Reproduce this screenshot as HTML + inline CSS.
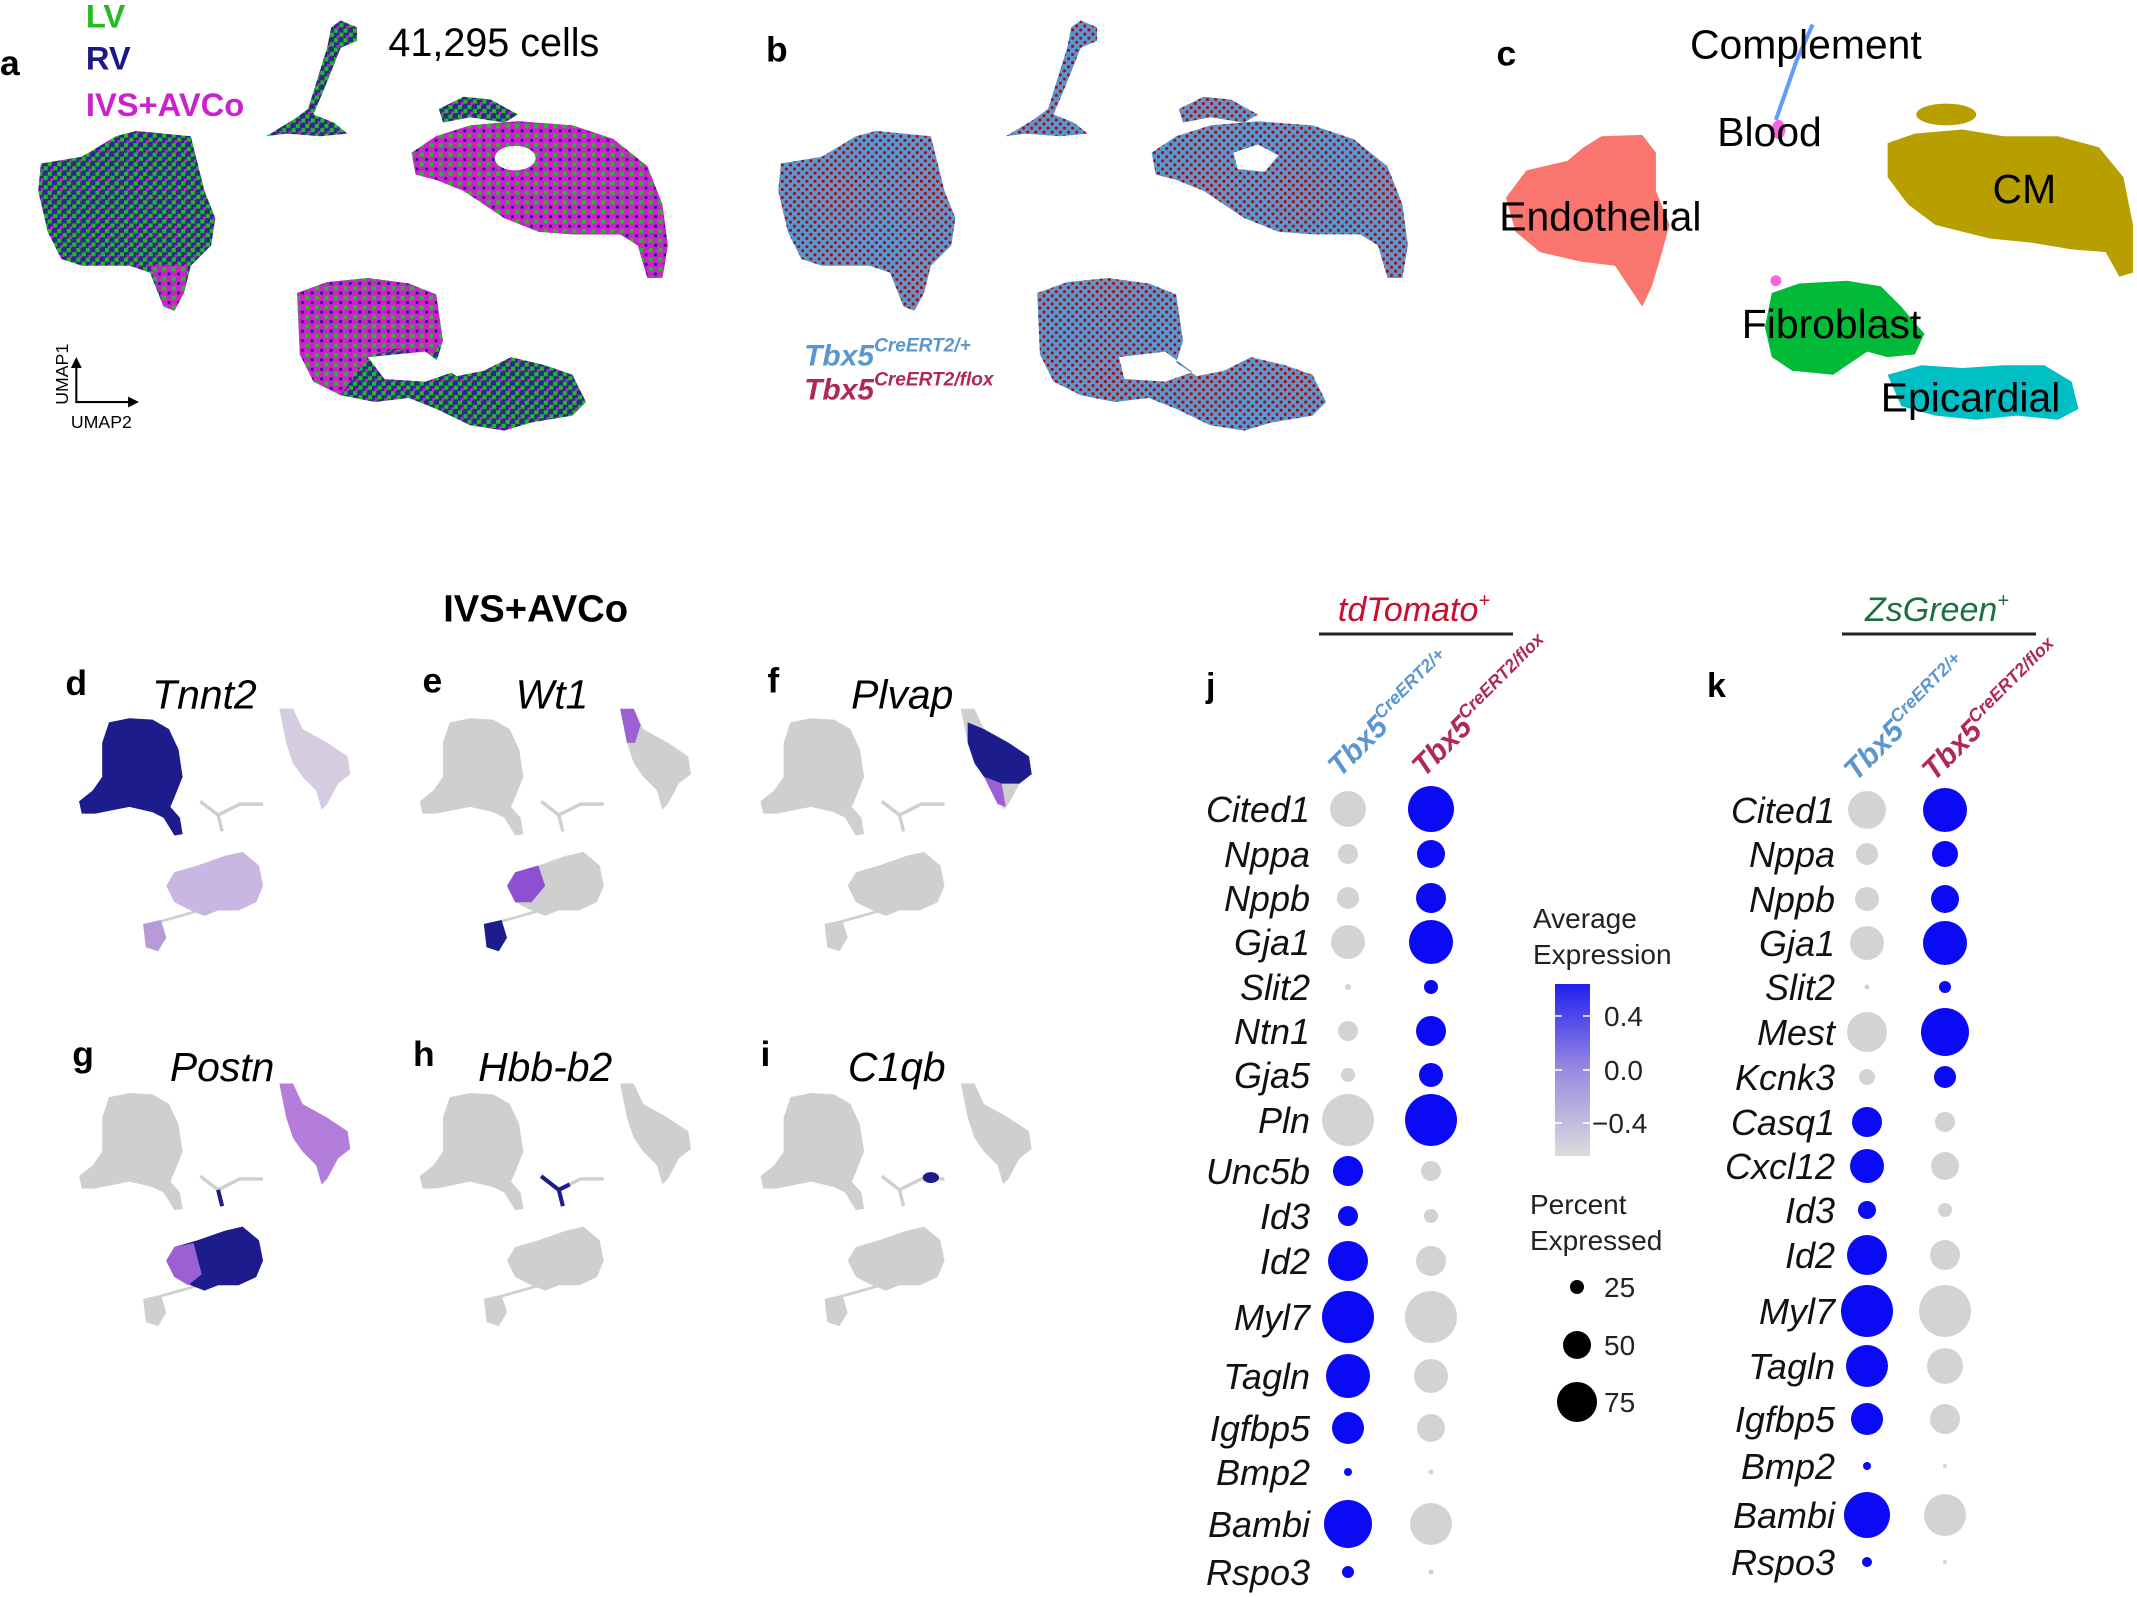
<!DOCTYPE html>
<html><head><meta charset="utf-8"><style>
html,body{margin:0;padding:0;background:#fff;}
svg{display:block;font-family:"Liberation Sans",Arial,sans-serif;}
</style></head><body>
<svg width="2137" height="1597" viewBox="0 0 2137 1597" xmlns="http://www.w3.org/2000/svg">
<defs>
<pattern id="pa" width="7" height="7" patternUnits="userSpaceOnUse">
<rect width="7" height="7" fill="#2a2a8a"/><rect x="0" y="0" width="3" height="3" fill="#22bb22"/><rect x="4" y="3" width="3" height="3" fill="#22bb22"/><rect x="2" y="5" width="2" height="2" fill="#cc22cc"/></pattern>
<pattern id="pa2" width="7" height="7" patternUnits="userSpaceOnUse">
<rect width="7" height="7" fill="#cc22cc"/><rect x="0" y="0" width="3" height="3" fill="#22bb22"/><rect x="4" y="4" width="2" height="2" fill="#1a1a80"/></pattern>
<pattern id="pb" width="6" height="6" patternUnits="userSpaceOnUse">
<rect width="6" height="6" fill="#5b97cf"/><rect x="0" y="0" width="2" height="2" fill="#b00000"/><rect x="3" y="3" width="2" height="2" fill="#b00000"/></pattern>
<linearGradient id="cb" x1="0" y1="0" x2="0" y2="1"><stop offset="0" stop-color="#2020f0"/><stop offset="0.5" stop-color="#9a8ae0"/><stop offset="1" stop-color="#dcdcdc"/></linearGradient>
<g id="umapA">
<path d="M30,120 L60,115 L85,100 L100,96 L140,100 L145,120 L150,140 L158,160 L155,180 L140,195 L135,215 L128,228 L120,225 L110,200 L95,195 L60,195 L45,190 L35,170 L28,140 Z"/>
<path d="M250,15 L262,20 L262,30 L250,35 L238,65 L230,84 L245,90 L255,98 L235,100 L210,98 L195,100 L215,88 L226,80 L240,35 L243,20 Z"/>
<path d="M322,80 L340,71 L360,73 L380,84 L370,90 L345,86 L325,90 Z"/>
<path fill-rule="evenodd" d="M302,112 L320,100 L345,92 L380,89 L420,92 L450,102 L475,122 L486,150 L490,180 L486,204 L475,204 L468,180 L455,172 L420,172 L395,170 L370,160 L355,150 L340,140 L320,132 L305,128 Z M362,112 L380,106 L395,114 L385,126 L365,124 Z"/>
<path fill-rule="evenodd" d="M218,215 L240,207 L270,204 L300,208 L320,216 L325,250 L320,266 L335,276 L355,272 L375,262 L400,268 L420,275 L430,295 L420,305 L390,310 L370,316 L345,312 L320,300 L300,292 L275,295 L250,290 L230,280 L220,260 Z M278,262 L312,258 L332,273 L312,280 L282,278 Z"/>
</g>
<g id="smallU" fill="#cfcfcf">
<path d="M75,545 L80,530 L95,527 L112,528 L124,535 L131,550 L134,570 L128,585 L125,592 L132,600 L134,612 L128,613 L120,600 L112,596 L95,592 L80,595 L70,597 L60,597 L58,588 L68,580 L75,570 Z"/>
<path d="M205,520 L215,520 L222,535 L240,545 L255,555 L257,568 L248,575 L240,590 L236,594 L232,580 L222,570 L215,560 L210,545 Z"/>
<path d="M147,588 L160,598 L176,590 L193,590" fill="none" stroke="#cfcfcf" stroke-width="2.5"/>
<path d="M160,598 L163,610" fill="none" stroke="#cfcfcf" stroke-width="2.5"/>
<path d="M122,650 L128,640 L145,635 L165,628 L178,625 L190,635 L193,650 L188,662 L175,668 L160,668 L150,672 L140,668 L128,662 Z"/>
<path d="M105,678 L118,675 L122,688 L116,698 L107,695 Z"/>
<path d="M118,676 L150,667" fill="none" stroke="#cfcfcf" stroke-width="2"/>
</g>
</defs>

<g transform="scale(1.3629)">
<use href="#umapA" fill="url(#pa)"/>
<g fill="url(#pa2)">
<path d="M302,112 L320,100 L345,92 L380,89 L420,92 L450,102 L475,122 L486,150 L490,180 L486,204 L475,204 L468,180 L455,172 L420,172 L395,170 L370,160 L355,150 L340,140 L320,132 L305,128 Z"/>
<path d="M218,215 L240,207 L270,204 L300,208 L320,216 L325,250 L315,262 L290,256 L270,262 L250,290 L230,280 L220,260 Z"/>
<path d="M110,195 L138,195 L135,215 L128,228 L120,225 Z"/>
</g>
<ellipse cx="378" cy="116" rx="15" ry="9" fill="#fff"/>
<path d="M270,262 L312,258 L332,273 L312,280 L282,278 Z" fill="#fff"/>
<text x="0" y="55" font-size="26" font-weight="bold">a</text>
<text x="63" y="20" font-size="24" font-weight="bold" fill="#22bb22">LV</text>
<text x="63" y="51" font-size="24" font-weight="bold" fill="#1a1a80">RV</text>
<text x="63" y="85" font-size="24" font-weight="bold" fill="#cc22cc">IVS+AVCo</text>
<text x="285" y="41" font-size="29">41,295 cells</text>
<path d="M56,265 L56,295 L98,295" fill="none" stroke="#000" stroke-width="1.5"/>
<path d="M52,270 L56,262 L60,270 Z M94,291 L102,295 L94,299 Z" fill="#000"/>
<text transform="translate(50,297) rotate(-90)" font-size="13">UMAP1</text>
<text x="52" y="314" font-size="13">UMAP2</text>

<use href="#umapA" fill="url(#pb)" transform="translate(543,0)"/>
<text x="562" y="45" font-size="26" font-weight="bold">b</text>
<text x="590" y="268" font-size="22" font-weight="bold" font-style="italic" fill="#5b97cf">Tbx5<tspan font-size="14" dy="-10">CreERT2/+</tspan></text>
<text x="590" y="293" font-size="22" font-weight="bold" font-style="italic" fill="#b02858">Tbx5<tspan font-size="14" dy="-10">CreERT2/flox</tspan></text>

<text x="1098" y="48" font-size="26" font-weight="bold">c</text>
<path d="M1162,108 L1175,100 L1205,99 L1215,112 L1215,140 L1225,165 L1218,190 L1212,210 L1205,225 L1195,210 L1185,195 L1160,192 L1130,185 L1112,170 L1105,145 L1120,125 L1150,118 Z" fill="#f8766d"/>
<path d="M1385,105 L1405,98 L1440,95 L1470,100 L1510,100 L1540,108 L1558,130 L1565,165 L1565,200 L1555,203 L1545,185 L1520,183 L1490,178 L1460,175 L1440,170 L1420,165 L1400,150 L1385,130 Z" fill="#b79f00"/>
<ellipse cx="1428" cy="84" rx="22" ry="8" fill="#b79f00"/>
<path d="M1330,18 L1318,45 L1303,88" fill="none" stroke="#619cff" stroke-width="3"/>
<ellipse cx="1305" cy="95" rx="5" ry="7" fill="#f564e3"/>
<path d="M1300,215 L1320,208 L1355,206 L1380,210 L1395,225 L1412,245 L1405,260 L1385,262 L1370,258 L1345,275 L1315,272 L1300,262 L1295,240 Z" fill="#00ba38"/>
<path d="M1385,275 L1410,268 L1440,270 L1470,268 L1500,268 L1520,280 L1525,300 L1510,308 L1480,305 L1450,308 L1420,305 L1395,298 Z" fill="#00bfc4"/>
<circle cx="1303" cy="206" r="4" fill="#f564e3"/>
<g font-size="30">
<text x="1240" y="43">Complement</text>
<text x="1260" y="107">Blood</text>
<text x="1100" y="169">Endothelial</text>
<text x="1462" y="149">CM</text>
<text x="1278" y="248">Fibroblast</text>
<text x="1380" y="302">Epicardial</text>
</g>

<text x="393" y="456" font-size="28" font-weight="bold" text-anchor="middle">IVS+AVCo</text>
<g font-size="26" font-weight="bold">
<text x="48" y="510">d</text><text x="310" y="508">e</text><text x="563" y="508">f</text>
<text x="53" y="782">g</text><text x="303" y="782">h</text><text x="558" y="782">i</text>
</g>
<g font-size="30" font-style="italic" text-anchor="middle">
<text x="150" y="520">Tnnt2</text><text x="405" y="520">Wt1</text><text x="662" y="520">Plvap</text>
<text x="163" y="793">Postn</text><text x="400" y="793">Hbb-b2</text><text x="658" y="793">C1qb</text>
</g>
<use href="#smallU"/>
<path d="M75,545 L80,530 L95,527 L112,528 L124,535 L131,550 L134,570 L128,585 L125,592 L132,600 L134,612 L128,613 L120,600 L112,596 L95,592 L80,595 L70,597 L60,597 L58,588 L68,580 L75,570 Z" fill="#1c1c8c"/>
<path d="M122,650 L128,640 L145,635 L165,628 L178,625 L190,635 L193,650 L188,662 L175,668 L160,668 L150,672 L140,668 L128,662 Z" fill="#c9b6e2"/>
<path d="M105,678 L118,675 L122,688 L116,698 L107,695 Z" fill="#b89ad8"/>
<path d="M205,520 L215,520 L222,535 L240,545 L255,555 L257,568 L248,575 L240,590 L236,594 L232,580 L222,570 L215,560 L210,545 Z" fill="#d6cce2"/>
<g transform="translate(250,0)"><use href="#smallU"/>
<path d="M205,520 L215,520 L220,532 L216,545 L210,545 Z" fill="#9c5fd4"/>
<path d="M122,650 L128,640 L145,635 L150,650 L140,662 L128,662 Z" fill="#8e4fd0"/>
<path d="M105,678 L118,675 L122,688 L116,698 L107,695 Z" fill="#1c1c8c"/></g>
<g transform="translate(500,0)"><use href="#smallU"/>
<path d="M210,530 L222,535 L240,545 L255,555 L257,568 L248,575 L235,575 L222,570 L215,560 L210,545 Z" fill="#1c1c8c"/>
<path d="M222,570 L235,575 L238,592 L232,590 Z" fill="#9c5fd4"/></g>
<g transform="translate(0,275)"><use href="#smallU"/>
<path d="M122,650 L128,640 L145,635 L165,628 L178,625 L190,635 L193,650 L188,662 L175,668 L160,668 L150,672 L140,668 L128,662 Z" fill="#1c1c8c"/>
<path d="M122,650 L128,640 L142,637 L148,660 L138,668 L128,662 Z" fill="#9c5fd4"/>
<path d="M205,520 L215,520 L222,535 L240,545 L255,555 L257,568 L248,575 L240,590 L236,594 L232,580 L222,570 L215,560 L210,545 Z" fill="#b47ddc"/>
<path d="M160,598 L163,610" stroke="#1c1c8c" stroke-width="3"/></g>
<g transform="translate(250,275)"><use href="#smallU"/>
<path d="M147,588 L160,598 L168,594 M160,598 L163,610" fill="none" stroke="#1c1c8c" stroke-width="3"/></g>
<g transform="translate(500,275)"><use href="#smallU"/>
<ellipse cx="183" cy="589" rx="6" ry="4" fill="#1c1c8c"/></g>
</g>

<g font-style="italic">
<text x="1414" y="621" font-size="34" text-anchor="middle" fill="#c8102e">tdTomato<tspan font-size="20" dy="-14">+</tspan></text>
<line x1="1319" y1="634" x2="1513" y2="634" stroke="#222" stroke-width="3"/>
<text x="1937" y="621" font-size="34" text-anchor="middle" fill="#1a7040">ZsGreen<tspan font-size="20" dy="-14">+</tspan></text>
<line x1="1842" y1="634" x2="2036" y2="634" stroke="#222" stroke-width="3"/>
</g>
<text x="1206" y="697" font-size="34" font-weight="bold">j</text>
<text x="1707" y="697" font-size="34" font-weight="bold">k</text>
<g font-weight="bold" font-style="italic">
<text transform="translate(1340,778) rotate(-45)" font-size="30" fill="#5b97cf">Tbx5<tspan font-size="18" dy="-12">CreERT2/+</tspan></text>
<text transform="translate(1424,778) rotate(-45)" font-size="30" fill="#b02858">Tbx5<tspan font-size="18" dy="-12">CreERT2/flox</tspan></text>
<text transform="translate(1856,782) rotate(-45)" font-size="30" fill="#5b97cf">Tbx5<tspan font-size="18" dy="-12">CreERT2/+</tspan></text>
<text transform="translate(1934,782) rotate(-45)" font-size="30" fill="#b02858">Tbx5<tspan font-size="18" dy="-12">CreERT2/flox</tspan></text>
</g>

<g font-size="36" font-style="italic" text-anchor="end" fill="#111">
<text x="1310" y="822">Cited1</text><text x="1310" y="867">Nppa</text><text x="1310" y="911">Nppb</text><text x="1310" y="955">Gja1</text><text x="1310" y="1000">Slit2</text><text x="1310" y="1044">Ntn1</text><text x="1310" y="1088">Gja5</text><text x="1310" y="1133">Pln</text><text x="1310" y="1184">Unc5b</text><text x="1310" y="1229">Id3</text><text x="1310" y="1274">Id2</text><text x="1310" y="1330">Myl7</text><text x="1310" y="1389">Tagln</text><text x="1310" y="1441">Igfbp5</text><text x="1310" y="1485">Bmp2</text><text x="1310" y="1537">Bambi</text><text x="1310" y="1585">Rspo3</text>
<text x="1835" y="823">Cited1</text><text x="1835" y="867">Nppa</text><text x="1835" y="912">Nppb</text><text x="1835" y="956">Gja1</text><text x="1835" y="1000">Slit2</text><text x="1835" y="1045">Mest</text><text x="1835" y="1090">Kcnk3</text><text x="1835" y="1135">Casq1</text><text x="1835" y="1179">Cxcl12</text><text x="1835" y="1223">Id3</text><text x="1835" y="1268">Id2</text><text x="1835" y="1324">Myl7</text><text x="1835" y="1379">Tagln</text><text x="1835" y="1432">Igfbp5</text><text x="1835" y="1479">Bmp2</text><text x="1835" y="1528">Bambi</text><text x="1835" y="1575">Rspo3</text>
</g>
<g fill="#d3d3d3">
<circle cx="1348" cy="809" r="18"/><circle cx="1348" cy="854" r="10"/><circle cx="1348" cy="898" r="11"/><circle cx="1348" cy="942" r="17"/><circle cx="1348" cy="987" r="3"/><circle cx="1348" cy="1031" r="10"/><circle cx="1348" cy="1075" r="7"/><circle cx="1348" cy="1120" r="26"/>
<circle cx="1431" cy="1171" r="10"/><circle cx="1431" cy="1216" r="7"/><circle cx="1431" cy="1261" r="15"/><circle cx="1431" cy="1317" r="26"/><circle cx="1431" cy="1376" r="17"/><circle cx="1431" cy="1428" r="14"/><circle cx="1431" cy="1472" r="2.5"/><circle cx="1431" cy="1524" r="21"/><circle cx="1431" cy="1572" r="2.5"/>
<circle cx="1867" cy="810" r="19"/><circle cx="1867" cy="854" r="11"/><circle cx="1867" cy="899" r="12"/><circle cx="1867" cy="943" r="17"/><circle cx="1867" cy="987" r="2.5"/><circle cx="1867" cy="1032" r="20"/><circle cx="1867" cy="1077" r="8"/>
<circle cx="1945" cy="1122" r="10"/><circle cx="1945" cy="1166" r="14"/><circle cx="1945" cy="1210" r="7"/><circle cx="1945" cy="1255" r="15"/><circle cx="1945" cy="1311" r="26"/><circle cx="1945" cy="1366" r="18"/><circle cx="1945" cy="1419" r="15"/><circle cx="1945" cy="1466" r="2"/><circle cx="1945" cy="1515" r="21"/><circle cx="1945" cy="1562" r="2"/>
</g>
<g fill="#0a0af5">
<circle cx="1431" cy="809" r="23"/><circle cx="1431" cy="854" r="14"/><circle cx="1431" cy="898" r="15"/><circle cx="1431" cy="942" r="22"/><circle cx="1431" cy="987" r="7"/><circle cx="1431" cy="1031" r="15"/><circle cx="1431" cy="1075" r="12"/><circle cx="1431" cy="1120" r="26"/>
<circle cx="1348" cy="1171" r="15"/><circle cx="1348" cy="1216" r="10"/><circle cx="1348" cy="1261" r="20"/><circle cx="1348" cy="1317" r="26"/><circle cx="1348" cy="1376" r="22"/><circle cx="1348" cy="1428" r="16"/><circle cx="1348" cy="1472" r="4"/><circle cx="1348" cy="1524" r="24"/><circle cx="1348" cy="1572" r="6"/>
<circle cx="1945" cy="810" r="22"/><circle cx="1945" cy="854" r="13"/><circle cx="1945" cy="899" r="14"/><circle cx="1945" cy="943" r="22"/><circle cx="1945" cy="987" r="6"/><circle cx="1945" cy="1032" r="24"/><circle cx="1945" cy="1077" r="11"/>
<circle cx="1867" cy="1122" r="15"/><circle cx="1867" cy="1166" r="17"/><circle cx="1867" cy="1210" r="9"/><circle cx="1867" cy="1255" r="20"/><circle cx="1867" cy="1311" r="26"/><circle cx="1867" cy="1366" r="21"/><circle cx="1867" cy="1419" r="16"/><circle cx="1867" cy="1466" r="4"/><circle cx="1867" cy="1515" r="23"/><circle cx="1867" cy="1562" r="5"/>
</g>
<g font-size="28" fill="#222">
<text x="1533" y="928">Average</text><text x="1533" y="964">Expression</text>
<rect x="1555" y="984" width="35" height="172" fill="url(#cb)"/>
<g stroke="#fff" stroke-width="1.5"><line x1="1555" y1="1016" x2="1562" y2="1016"/><line x1="1583" y1="1016" x2="1590" y2="1016"/><line x1="1555" y1="1070" x2="1562" y2="1070"/><line x1="1583" y1="1070" x2="1590" y2="1070"/><line x1="1555" y1="1123" x2="1562" y2="1123"/><line x1="1583" y1="1123" x2="1590" y2="1123"/></g>
<text x="1604" y="1026">0.4</text><text x="1604" y="1080">0.0</text><text x="1592" y="1133">−0.4</text>
<text x="1530" y="1214">Percent</text><text x="1530" y="1250">Expressed</text>
<circle cx="1577" cy="1287" r="7" fill="#000"/><circle cx="1577" cy="1345" r="14" fill="#000"/><circle cx="1577" cy="1402" r="20" fill="#000"/>
<text x="1604" y="1297">25</text><text x="1604" y="1355">50</text><text x="1604" y="1412">75</text>
</g>
</svg>
</body></html>
